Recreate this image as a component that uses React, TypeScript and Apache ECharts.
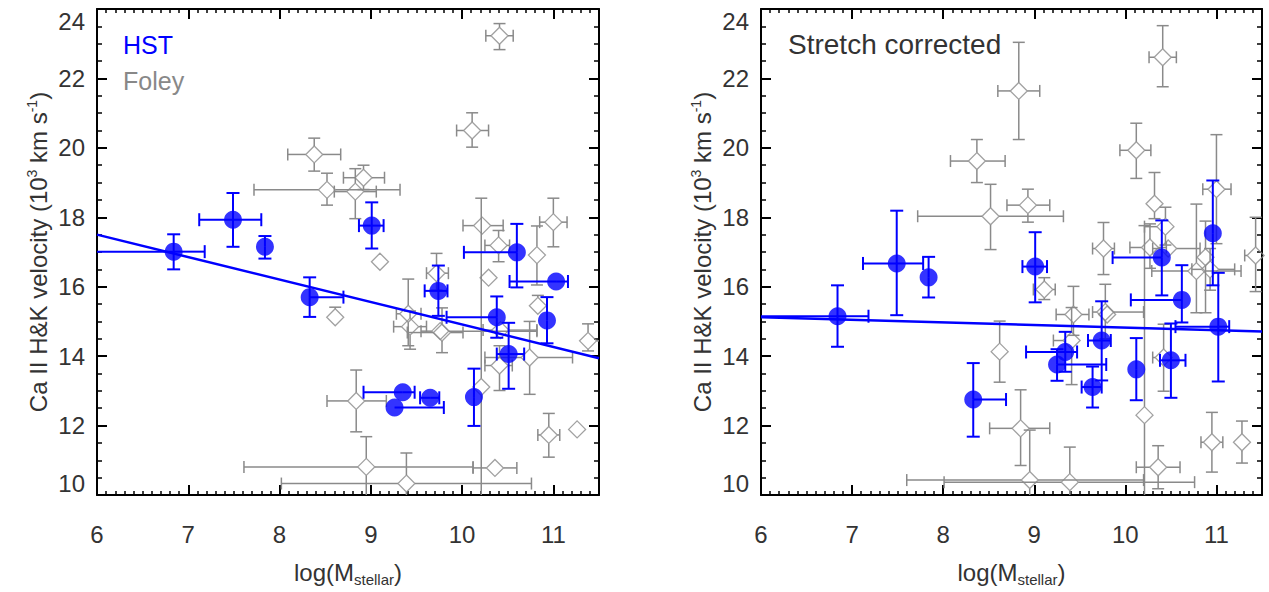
import React, { useEffect, useRef } from "react";
import * as echarts from "echarts";

// [x, y, xLow, xHigh, yLow, yHigh]
const hstLeft: number[][] = [
  [6.84, 17.01, 5.7, 7.18, 16.5, 17.51],
  [7.49, 17.93, 7.12, 7.8, 17.15, 18.7],
  [7.84, 17.15, 7.84, 7.84, 16.81, 17.46],
  [8.33, 15.7, 8.33, 8.7, 15.13, 16.27],
  [9.01, 17.76, 8.87, 9.14, 17.1, 18.43],
  [9.74, 15.88, 9.59, 9.84, 15.16, 16.61],
  [10.38, 15.12, 9.83, 10.38, 14.53, 15.72],
  [10.51, 14.06, 10.38, 10.68, 13.06, 14.96],
  [10.6, 16.99, 10.02, 10.6, 15.98, 17.81],
  [11.03, 16.15, 10.52, 11.16, 16.15, 16.15],
  [10.93, 15.03, 10.93, 10.93, 14.37, 15.7],
  [9.35, 12.96, 8.92, 9.48, 12.96, 12.96],
  [9.65, 12.8, 9.54, 9.75, 12.8, 12.8],
  [9.26, 12.52, 9.26, 9.8, 12.52, 12.52],
  [10.13, 12.82, 10.13, 10.13, 11.99, 13.64],
];

const hstRight: number[][] = [
  [6.84, 15.15, 5.7, 7.18, 14.27, 16.04],
  [7.49, 16.67, 7.12, 7.78, 15.18, 18.19],
  [7.84, 16.27, 7.84, 7.84, 15.69, 16.86],
  [8.33, 12.75, 8.33, 8.69, 11.68, 13.8],
  [9.01, 16.58, 8.87, 9.14, 15.55, 17.57],
  [9.74, 14.45, 9.59, 9.84, 13.3, 15.58],
  [10.4, 16.84, 9.86, 10.4, 15.75, 17.91],
  [10.5, 13.88, 10.38, 10.66, 12.8, 14.94],
  [10.62, 15.62, 10.06, 10.62, 14.97, 16.62],
  [11.02, 14.85, 10.55, 11.14, 13.27, 16.4],
  [10.96, 17.54, 10.96, 10.96, 16.04, 19.06],
  [9.34, 14.12, 8.91, 9.47, 13.55, 14.7],
  [9.64, 13.11, 9.52, 9.74, 12.52, 13.7],
  [9.25, 13.76, 9.25, 9.79, 13.29, 14.2],
  [10.12, 13.62, 10.12, 10.12, 12.73, 14.52],
];

const foleyLeft: number[][] = [
  [10.41, 23.23, 10.26, 10.56, 22.83, 23.58],
  [10.11, 20.5, 9.94, 10.29, 20.02, 21.01],
  [8.38, 19.81, 8.09, 8.67, 19.33, 20.28],
  [8.92, 19.14, 8.7, 9.15, 18.8, 19.5],
  [8.52, 18.79, 7.72, 9.32, 18.35, 19.27],
  [8.83, 18.74, 8.6, 9.06, 17.96, 19.4],
  [10.22, 17.76, 10.01, 10.45, 17.5, 18.0],
  [10.4, 17.19, 10.25, 10.52, 16.72, 17.62],
  [11.0, 17.86, 10.85, 11.15, 17.15, 18.55],
  [10.82, 16.91, 10.72, 10.92, 16.05, 17.75],
  [9.72, 16.39, 9.61, 9.85, 15.9, 16.96],
  [9.1, 16.72, 9.02, 9.18, 16.6, 16.85],
  [8.61, 15.12, 8.56, 8.68, 14.87, 15.41],
  [10.29, 16.26, 10.29, 10.29, 16.0, 16.5],
  [10.83, 15.45, 10.83, 10.83, 15.2, 15.75],
  [11.38, 14.44, 11.29, 11.6, 14.15, 14.93],
  [9.41, 15.22, 9.28, 9.55, 14.3, 16.22],
  [9.43, 14.85, 9.25, 9.61, 14.2, 15.3],
  [9.78, 14.68, 9.4, 10.01, 14.1, 15.39],
  [9.76, 14.72, 9.55, 10.82, 14.72, 14.72],
  [10.42, 14.75, 10.23, 10.82, 14.75, 14.75],
  [10.41, 13.73, 10.25, 10.55, 13.01, 14.3],
  [10.74, 13.96, 10.25, 11.21, 12.9, 15.0],
  [10.21, 13.11, 10.21, 10.21, 7.6, 18.55],
  [8.84, 12.71, 8.52, 9.17, 11.82, 13.6],
  [10.95, 11.73, 10.83, 11.07, 11.09, 12.35],
  [11.26, 11.89, 11.19, 11.35, 11.8, 12.0],
  [8.95, 10.81, 7.61, 10.12, 9.5, 11.68],
  [10.36, 10.78, 10.12, 10.6, 10.7, 10.9],
  [9.39, 10.33, 8.02, 10.76, 9.4, 11.21],
];

const foleyRight: number[][] = [
  [10.41, 22.61, 10.26, 10.56, 21.76, 23.52],
  [8.83, 21.64, 8.6, 9.06, 20.24, 23.04],
  [8.37, 19.62, 8.08, 8.68, 19.0, 20.24],
  [10.12, 19.93, 9.94, 10.28, 19.12, 20.71],
  [11.0, 18.81, 10.85, 11.16, 17.24, 20.38],
  [10.32, 18.39, 10.32, 10.32, 17.96, 19.29],
  [8.93, 18.35, 8.7, 9.17, 17.86, 18.81],
  [8.52, 18.03, 7.72, 9.32, 17.07, 18.95],
  [9.76, 17.1, 9.64, 9.88, 16.35, 17.85],
  [9.11, 15.92, 8.99, 9.23, 15.63, 16.26],
  [9.43, 15.2, 9.24, 9.6, 14.6, 16.01],
  [9.41, 14.45, 9.21, 9.49, 13.18, 15.4],
  [9.78, 15.27, 9.64, 10.2, 14.5, 16.07],
  [9.8, 15.2, 9.7, 9.9, 15.2, 15.2],
  [10.27, 17.13, 10.05, 10.45, 16.53, 17.81],
  [10.44, 17.73, 10.21, 10.51, 17.2, 18.29],
  [10.47, 17.1, 10.3, 10.82, 17.1, 17.1],
  [10.88, 16.85, 10.78, 10.98, 15.25, 17.89],
  [10.78, 16.45, 10.29, 11.27, 15.25, 18.38],
  [10.93, 16.5, 10.73, 11.2, 15.9, 17.1],
  [11.43, 16.9, 11.31, 11.6, 15.86, 18.0],
  [8.62, 14.13, 8.55, 8.69, 13.25, 15.01],
  [8.85, 11.92, 8.51, 9.17, 10.85, 13.03],
  [8.95, 10.43, 7.6, 10.2, 9.0, 11.87],
  [9.39, 10.37, 8.01, 10.76, 9.4, 11.38],
  [10.21, 12.3, 10.13, 10.29, 6.8, 17.76],
  [10.36, 10.8, 10.12, 10.6, 10.18, 11.42],
  [10.95, 11.52, 10.83, 11.07, 10.66, 12.38],
  [11.28, 11.52, 11.19, 11.37, 10.92, 12.13],
  [10.42, 13.96, 10.3, 10.5, 12.99, 14.92],
];

const fitLeft: number[][] = [
  [6, 17.5],
  [11.5, 13.94],
];
const fitRight: number[][] = [
  [6, 15.12],
  [11.5, 14.71],
];

const xTickValues = [6, 7, 8, 9, 10, 11];
const X_MIN = 6;
const X_MAX = 11.5;
const Y_MIN = 10;
const Y_MAX = 24;

const FONT = "'Liberation Sans', Arial, Helvetica, sans-serif";
const BLUE = "#0000ff";
const GRAY = "#8a8a8a";

function errRender(color: string, width: number, half: number, cap: number) {
  return (params: any, api: any) => {
    const x = api.value(0);
    const y = api.value(1);
    const c = api.coord([x, y]);
    const pl = api.coord([api.value(2), y]);
    const pr = api.coord([api.value(3), y]);
    const pb = api.coord([x, api.value(4)]);
    const pt = api.coord([x, api.value(5)]);
    const children: any[] = [];
    const seg = (x1: number, y1: number, x2: number, y2: number) =>
      children.push({
        type: "line",
        shape: { x1, y1, x2, y2 },
        style: { stroke: color, lineWidth: width },
      });
    if (c[0] - pl[0] > half + 1) {
      seg(pl[0], c[1], c[0] - half, c[1]);
      seg(pl[0], c[1] - cap, pl[0], c[1] + cap);
    }
    if (pr[0] - c[0] > half + 1) {
      seg(c[0] + half, c[1], pr[0], c[1]);
      seg(pr[0], c[1] - cap, pr[0], c[1] + cap);
    }
    if (pb[1] - c[1] > half + 1) {
      seg(c[0], c[1] + half, c[0], pb[1]);
      seg(c[0] - cap, pb[1], c[0] + cap, pb[1]);
    }
    if (c[1] - pt[1] > half + 1) {
      seg(c[0], c[1] - half, c[0], pt[1]);
      seg(c[0] - cap, pt[1], c[0] + cap, pt[1]);
    }
    return { type: "group", children };
  };
}

function tick(len: number, w: number) {
  return { show: true, inside: true, length: len, lineStyle: { color: "#000", width: w } };
}
function frameLine() {
  return { show: true, onZero: false, lineStyle: { color: "#000", width: 2 } };
}

function xAxes(gi: number) {
  const mk = () => ({
    gridIndex: gi,
    type: "value",
    min: X_MIN,
    max: X_MAX,
    splitLine: { show: false },
  });
  return [
    {
      ...mk(),
      interval: 1,
      position: "bottom",
      axisLine: frameLine(),
      axisTick: tick(10, 2),
      axisLabel: {
        formatter: (v: number) => (xTickValues.includes(v) ? String(v) : ""),
        fontSize: 24,
        color: "#333",
        margin: 27,
        fontFamily: FONT,
      },
      name: "log(M{sub|stellar})",
      nameLocation: "middle",
      nameGap: 63,
      nameTextStyle: {
        fontSize: 24,
        color: "#333",
        fontFamily: FONT,
        rich: {
          sub: { fontSize: 15, color: "#333", fontFamily: FONT, padding: [14, 0, 0, 0] },
        },
      },
    },
    {
      ...mk(),
      interval: 0.1,
      position: "bottom",
      axisLine: { show: false },
      axisTick: tick(4, 1.5),
      axisLabel: { show: false },
    },
    {
      ...mk(),
      interval: 1,
      position: "top",
      axisLine: frameLine(),
      axisTick: tick(10, 2),
      axisLabel: { show: false },
    },
    {
      ...mk(),
      interval: 0.1,
      position: "top",
      axisLine: { show: false },
      axisTick: tick(4, 1.5),
      axisLabel: { show: false },
    },
  ];
}

function yAxes(gi: number) {
  const mk = () => ({
    gridIndex: gi,
    type: "value",
    min: Y_MIN,
    max: Y_MAX,
    interval: 2,
    splitLine: { show: false },
    axisLine: frameLine(),
    axisTick: tick(10, 2),
    minorTick: { show: true, splitNumber: 4, length: 5, lineStyle: { color: "#000", width: 1.5 } },
  });
  return [
    {
      ...mk(),
      position: "left",
      axisLabel: {
        fontSize: 24,
        color: "#333",
        margin: 12,
        fontFamily: FONT,
        verticalAlignMaxLabel: "top",
        verticalAlignMinLabel: "bottom",
      },
      name: "Ca II H&K velocity (10{sup|3} km s{sup|-1})",
      nameLocation: "middle",
      nameGap: 46,
      nameTextStyle: {
        fontSize: 24,
        color: "#333",
        fontFamily: FONT,
        rich: {
          sup: { fontSize: 14, color: "#333", fontFamily: FONT, padding: [0, 0, 12, 0] },
        },
      },
    },
    {
      ...mk(),
      position: "right",
      axisLabel: { show: false },
    },
  ];
}

function panelSeries(gi: number, hst: number[][], foley: number[][], fit: number[][]) {
  const xi = gi * 4;
  const yi = gi * 2;
  return [
    {
      type: "custom",
      xAxisIndex: xi,
      yAxisIndex: yi,
      data: foley,
      encode: { x: 0, y: 1 },
      clip: true,
      renderItem: errRender(GRAY, 1.5, 8.5, 6),
      z: 2,
    },
    {
      type: "scatter",
      xAxisIndex: xi,
      yAxisIndex: yi,
      data: foley.map((d) => [d[0], d[1]]),
      symbol: "diamond",
      symbolSize: [17, 17],
      itemStyle: { color: "rgba(255,255,255,0)", borderColor: GRAY, borderWidth: 1.3 },
      z: 3,
    },
    {
      type: "line",
      xAxisIndex: xi,
      yAxisIndex: yi,
      data: fit,
      showSymbol: false,
      symbol: "none",
      lineStyle: { color: BLUE, width: 2.5 },
      z: 4,
    },
    {
      type: "custom",
      xAxisIndex: xi,
      yAxisIndex: yi,
      data: hst,
      encode: { x: 0, y: 1 },
      clip: true,
      renderItem: errRender(BLUE, 2, 0, 6.5),
      z: 5,
    },
    {
      type: "scatter",
      xAxisIndex: xi,
      yAxisIndex: yi,
      data: hst.map((d) => [d[0], d[1]]),
      symbol: "circle",
      symbolSize: 18,
      itemStyle: { color: BLUE },
      z: 6,
    },
  ];
}

export default function App() {
  const ref = useRef<HTMLDivElement>(null);
  useEffect(() => {
    if (!ref.current) return;
    const chart = echarts.init(ref.current, null, { renderer: "svg" });
    chart.setOption({
      animation: false,
      grid: [
        { left: 97, top: 9, width: 502, height: 491 },
        { left: 761, top: 9, width: 501, height: 491 },
      ],
      xAxis: [...xAxes(0), ...xAxes(1)],
      yAxis: [...yAxes(0), ...yAxes(1)],
      series: [
        ...panelSeries(0, hstLeft, foleyLeft, fitLeft),
        ...panelSeries(1, hstRight, foleyRight, fitRight),
      ],
      graphic: [
        {
          type: "text",
          left: 123,
          top: 32,
          style: { text: "HST", fill: BLUE, font: `25px ${FONT}` },
          z: 10,
        },
        {
          type: "text",
          left: 123,
          top: 68,
          style: { text: "Foley", fill: "#888", font: `25px ${FONT}` },
          z: 10,
        },
        {
          type: "text",
          left: 788,
          top: 30,
          style: { text: "Stretch corrected", fill: "#333", font: `28px ${FONT}` },
          z: 10,
        },
      ],
    });
    return () => chart.dispose();
  }, []);
  return (
    <div
      ref={ref}
      style={{ position: "fixed", left: 0, top: 0, width: 1269, height: 592, background: "#fff" }}
    />
  );
}
